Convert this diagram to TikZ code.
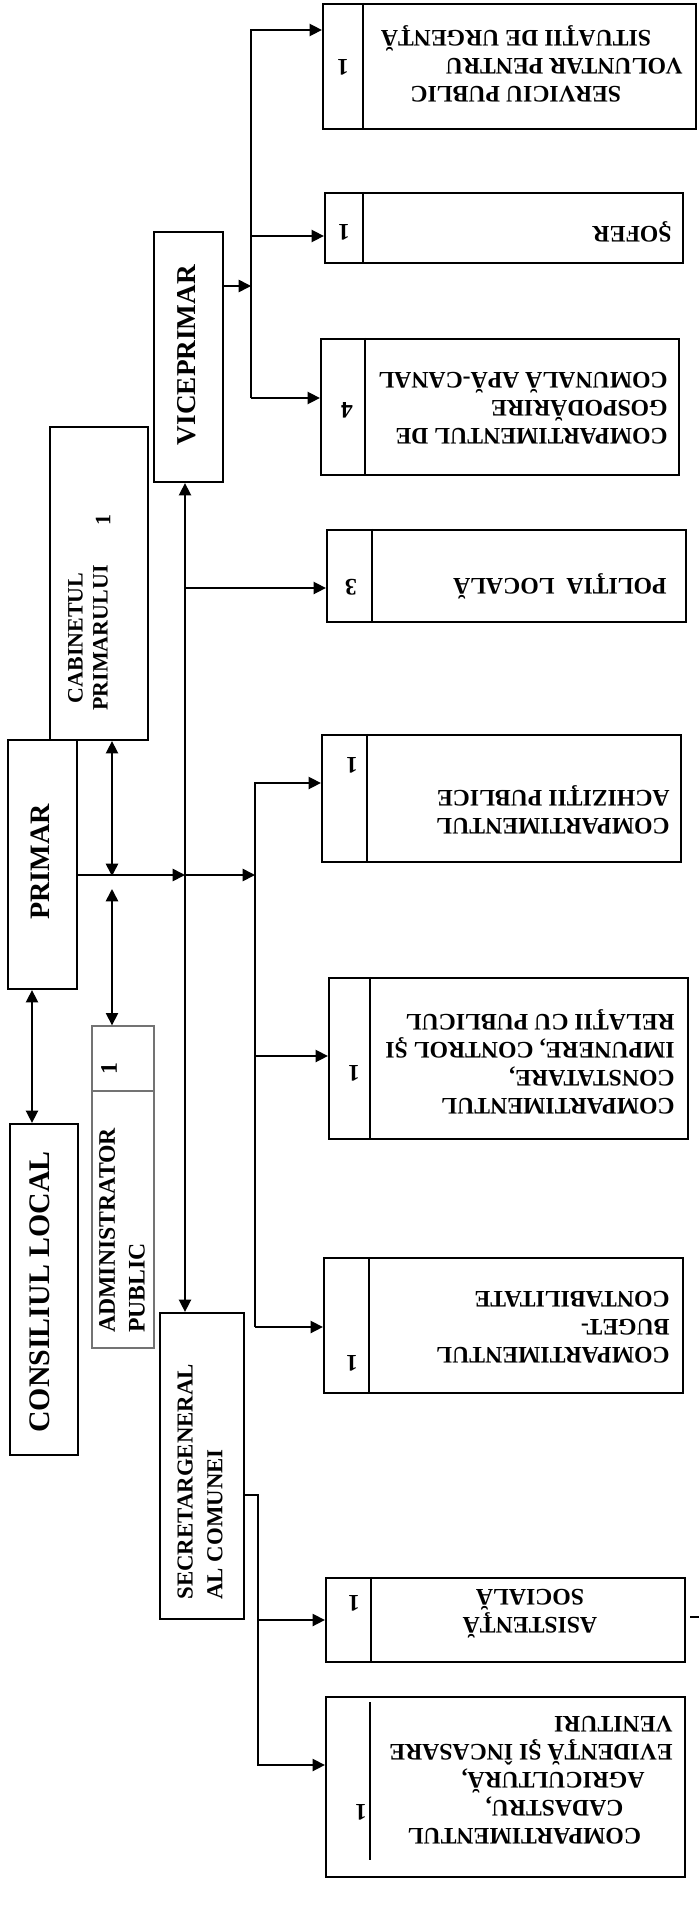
\documentclass[tikz,border=0pt]{standalone}
\usepackage{fontspec}
\setmainfont{Liberation Serif}
\usetikzlibrary{arrows.meta,fit}

\tikzset{
  box/.style={draw, line width=1.3pt, inner sep=0pt},
  abox/.style={draw=black!55, line width=0.8pt, inner sep=0pt},
  sep/.style={line width=1pt},
  link/.style={line width=0.9pt},
  arr/.style={link, -{Triangle[length=7pt,width=7pt]}},
  darr/.style={link, {Triangle[length=7pt,width=7pt]}-{Triangle[length=7pt,width=7pt]}},
  uptxt/.style={rotate=90, inner sep=0pt},
  dntxt/.style={rotate=180, inner sep=0pt, anchor=west, align=left, font=\bfseries\fontsize{13.5}{16}\selectfont},
  nr/.style={rotate=180, inner sep=0pt, font=\bfseries\fontsize{13.5}{16}\selectfont},
}

\begin{document}
\begin{tikzpicture}[x=0.02cm, y=-0.02cm]
\useasboundingbox (0,0) rectangle (699,1916);
% bus lines
\coordinate (lc) at (32,0);
\coordinate (la) at (112,0);
\coordinate (busm) at (185,0);
\coordinate (busv) at (251,0);
\coordinate (busp) at (255,0);
\coordinate (buss) at (258,0);

% left column
\node[box, fit={(10,1124) (78,1455)}] (consiliu) {};
\node[uptxt, font=\bfseries\fontsize{17}{20}\selectfont] (consiliut) at (40,1292) {CONSILIUL LOCAL};
\node[box, fit={(8,740) (77,989)}] (primar) {};
\node[uptxt, font=\bfseries\fontsize{16}{19}\selectfont] (primart) at (40,862) {PRIMAR};
\node[box, fit={(50,427) (148,740)}] (cabinet) {};
\node[uptxt, align=center, font=\bfseries\fontsize{12.5}{14.2}\selectfont] (cabinett) at (88,638) {CABINETUL\\PRIMARULUI};
\node[uptxt, font=\bfseries\fontsize{12.5}{14.2}\selectfont] (cabinetn) at (103,520) {1};
\node[abox, fit={(92,1026) (154,1348)}] (admin) {};
\draw[black!55, line width=0.8pt] (admin.west |- 0,1091) -- (admin.east |- 0,1091);
\node[uptxt, anchor=west, align=left, font=\bfseries\fontsize{13.5}{17}\selectfont] (admint) at (122,1333) {ADMINISTRATOR\\PUBLIC};
\node[uptxt, font=\bfseries\fontsize{13.5}{17}\selectfont] (adminn) at (109,1069) {1};
\node[box, fit={(154,232) (223,482)}] (vice) {};
\node[uptxt, font=\bfseries\fontsize{15.5}{18}\selectfont] (vicet) at (187,355) {VICEPRIMAR};
\node[box, fit={(160,1313) (244,1619)}] (secr) {};
\node[uptxt, anchor=west, align=left, font=\bfseries\fontsize{13}{17}\selectfont] (secrt) at (200,1600) {SECRETARGENERAL\\AL COMUNEI};

% right column
\node[box, fit={(323,4) (696,129)}] (serv) {};
\draw[sep] (363,0 |- serv.north) -- (363,0 |- serv.south);
\node[dntxt] (servt) at (683,64) {\hspace*{35pt}SERVICIU PUBLIC\\VOLUNTAR PENTRU\\\hspace*{18pt}SITUAŢII DE URGENŢĂ};
\node[nr] (servn) at (343,67) {1};

\node[box, fit={(325,193) (683,263)}] (sofer) {};
\draw[sep] (363,0 |- sofer.north) -- (363,0 |- sofer.south);
\node[dntxt] (sofert) at (672,232) {ŞOFER};
\node[nr] (sofern) at (344,232) {1};

\node[box, fit={(321,339) (679,475)}] (gosp) {};
\draw[sep] (365,0 |- gosp.north) -- (365,0 |- gosp.south);
\node[dntxt] (gospt) at (668,408) {COMPARTIMENTUL DE\\GOSPODĂRIRE\\COMUNALĂ APĂ-CANAL};
\node[nr] (gospn) at (347,410) {4};

\node[box, fit={(327,530) (686,622)}] (pol) {};
\draw[sep] (372,0 |- pol.north) -- (372,0 |- pol.south);
\node[dntxt] (polt) at (667,586) {POLIŢIA\ \ LOCALĂ};
\node[nr] (poln) at (351,587) {3};

\node[box, fit={(322,735) (681,862)}] (achiz) {};
\draw[sep] (367,0 |- achiz.north) -- (367,0 |- achiz.south);
\node[dntxt] (achizt) at (670,810) {COMPARTIMENTUL\\ACHIZIŢII PUBLICE};
\node[nr] (achizn) at (352,765) {1};

\node[box, fit={(329,978) (688,1139)}] (const) {};
\draw[sep] (370,0 |- const.north) -- (370,0 |- const.south);
\node[dntxt] (constt) at (675,1062) {COMPARTIMENTUL\\CONSTATARE,\\IMPUNERE, CONTROL ŞI\\RELAŢII CU PUBLICUL};
\node[nr] (constn) at (354,1073) {1};

\node[box, fit={(324,1258) (683,1393)}] (buget) {};
\draw[sep] (369,0 |- buget.north) -- (369,0 |- buget.south);
\node[dntxt] (bugett) at (670,1327) {COMPARTIMENTUL\\BUGET-\\CONTABILITATE};
\node[nr] (bugetn) at (352,1363) {1};

\node[box, fit={(326,1578) (685,1662)}] (asist) {};
\draw[sep] (371,0 |- asist.north) -- (371,0 |- asist.south);
\node[dntxt, anchor=center, align=center] (asistt) at (530,1614) {ASISTENŢĂ\\SOCIALĂ};
\node[nr] (asistn) at (354,1603) {1};
\draw[link] (690,1617) -- (699,1617);

\node[box, fit={(326,1697) (685,1877)}] (cad) {};
\draw[sep] (370,1702) -- (370,1860);
\node[dntxt] (cadt) at (673,1780) {\hspace*{18pt}COMPARTIMENTUL\\\hspace*{28pt}CADASTRU,\\\hspace*{16pt}AGRICULTURĂ,\\EVIDENŢĂ ŞI ÎNCASARE\\VENITURI};
\node[nr] (cadn) at (361,1812) {1};

% connectors
\draw[darr] (primar.south -| lc) -- (consiliu.north -| lc);
\draw[darr] (cabinet.south -| la) -- (la |- 0,876);
\draw[darr] (la |- 0,889) -- (admin.north -| la);
\draw[arr] (primar.east |- 0,875) -- (busm |- 0,875);
\draw[arr] (busm |- 0,875) -- (busp |- 0,875);
\draw[darr] (vice.south -| busm) -- (secr.north -| busm);
\draw[arr] (busm |- 0,588) -- (pol.west |- 0,588);

\draw[arr] (vice.east |- 0,286) -- (busv |- 0,286);
\draw[arr] (busv |- 0,398) |- (serv.west |- 0,30);
\draw[arr] (busv |- 0,236) -- (sofer.west |- 0,236);
\draw[arr] (busv |- 0,398) -- (gosp.west |- 0,398);

\draw[arr] (busp |- 0,1327) |- (achiz.west |- 0,783);
\draw[arr] (busp |- 0,1056) -- (const.west |- 0,1056);
\draw[arr] (busp |- 0,1327) -- (buget.west |- 0,1327);

\draw[arr] (secr.east |- 0,1495) -| (buss |- 0,1765) -- (cad.west |- 0,1765);
\draw[arr] (buss |- 0,1620) -- (asist.west |- 0,1620);
\end{tikzpicture}
\end{document}
